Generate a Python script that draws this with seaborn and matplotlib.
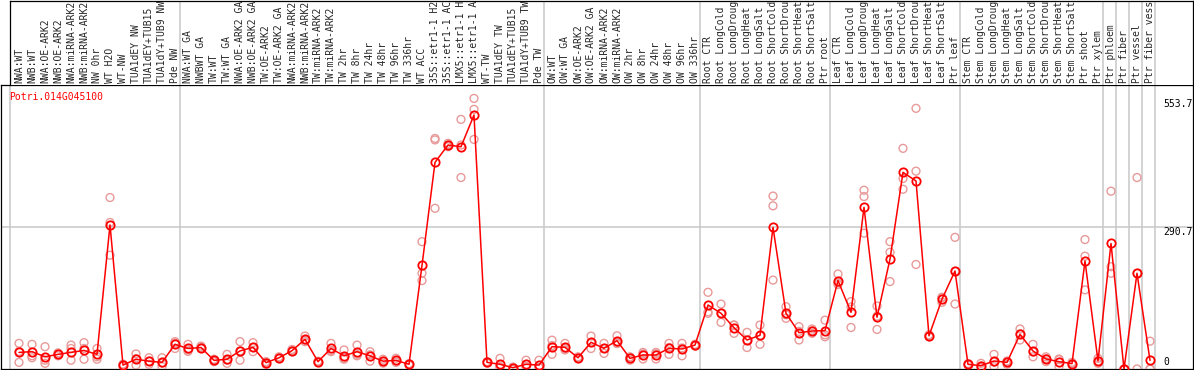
import numpy as np
import pandas as pd
import matplotlib
matplotlib.use('Agg')
import matplotlib.pyplot as plt
import matplotlib.transforms as mtransforms
import seaborn as sns

# =============================================================================
# DATA
# =============================================================================
gene_id = 'Potri.014G045100'

# sample names as far as they are visible in the header
samples = [
    'NWA:WT', 'NWB:WT', 'NWA:OE-ARK2', 'NWB:OE-ARK2', 'NWA:miRNA-ARK2',
    'NWB:miRNA-ARK2', 'NW 0hr', 'WT H2O', 'WT-NW', 'TUA1dEY NW',
    'TUA1dEY+TUB15', 'TUA1dY+TUB9 NW', 'Pde NW', 'NWA:WT GA', 'NWBWT GA',
    'TW:WT', 'TW:WT GA', 'NWA:OE-ARK2 GA', 'NWB:OE-ARK2 GA', 'TW:OE-ARK2',
    'TW:OE-ARK2 GA', 'NWA:miRNA-ARK2', 'NWB:miRNA-ARK2', 'TW:miRNA-ARK2',
    'TW:miRNA-ARK2', 'TW 2hr', 'TW 8hr', 'TW 24hr', 'TW 48hr', 'TW 96hr',
    'TW 336hr', 'WT ACC', '35S::etr1-1 H2', '35S::etr1-1 AC',
    'LMX5::etr1-1 H', 'LMX5::etr1-1 A', 'WT-TW', 'TUA1dEY TW',
    'TUA1dEY+TUB15', 'TUA1dY+TUB9 TW', 'Pde TW', 'OW:WT', 'OW:WT GA',
    'OW:OE-ARK2', 'OW:OE-ARK2 GA', 'OW:miRNA-ARK2', 'OW:miRNA-ARK2', 'OW 2hr',
    'OW 8hr', 'OW 24hr', 'OW 48hr', 'OW 96hr', 'OW 336hr', 'Root CTR',
    'Root LongCold', 'Root LongDroug', 'Root LongHeat', 'Root LongSalt',
    'Root ShortCold', 'Root ShortDrou', 'Root ShortHeat', 'Root ShortSalt',
    'Ptr root', 'Leaf CTR', 'Leaf LongCold', 'Leaf LongDroug', 'Leaf LongHeat',
    'Leaf LongSalt', 'Leaf ShortCold', 'Leaf ShortDrou', 'Leaf ShortHeat',
    'Leaf ShortSalt', 'Ptr leaf', 'Stem CTR', 'Stem LongCold',
    'Stem LongDroug', 'Stem LongHeat', 'Stem LongSalt', 'Stem ShortCold',
    'Stem ShortDrou', 'Stem ShortHeat', 'Stem ShortSalt', 'Ptr shoot',
    'Ptr xylem', 'Ptr phloem', 'Ptr fiber', 'Ptr vessel', 'Ptr fiber vess',
]

mean_expr = [
    34, 35.5, 25, 30, 34, 38, 30, 295, 8, 20,
    16, 13.6, 50.5, 42, 44, 17.7, 20, 37, 44.4, 13,
    23, 37.5, 60.7, 15, 42, 27, 35.5, 27, 16, 17.7,
    9.6, 212, 423, 458.5, 455, 520, 13.6, 9.6, 2.7, 9.6,
    8, 45.7, 44.4, 23, 54.6, 42.3, 58, 21.8, 28.7, 28.7,
    42.3, 41, 49, 131, 114, 84.6, 59.4, 69, 290, 114,
    74.4, 77.8, 78.5, 181, 116, 331, 106, 225, 402.6, 385,
    68, 143, 200.6, 9.6, 6.8, 16.4, 13.6, 71, 36.8, 20.5,
    15, 11, 221, 16.4, 257, 0, 196, 17.7,
]

rep1 = [
    52.5, 50.5, 45.7, 27, 49, 54, 42, 351, 10, 31,
    23, 23, 56, 50.5, 47, 15, 30, 56, 54, 15,
    25, 40, 67.5, 15, 52.5, 39, 49, 35.5, 20, 22,
    9.6, 260.7, 472, 462, 511, 554, 13.6, 21.8, 0, 18,
    18, 59, 52.5, 23, 67.5, 52.5, 68, 18, 34, 34,
    52.5, 52.5, 50.5, 157, 133, 90, 75, 90, 354, 127.6,
    86.7, 82, 100, 194.5, 138, 366, 129, 260.7, 451.7, 533.6,
    68, 146, 269.5, 9.6, 11.6, 30, 16.4, 82, 50.5, 25,
    20.5, 13.6, 265, 21.8, 364, 0, 392, 57,
]

rep2 = [
    13.6, 27, 18, 30, 42, 42, 25, 233, 6, 8,
    9.5, 12, 42, 39, 44, 20, 11.6, 18, 35.5, 9.5,
    21, 35.5, 56, 14, 35.5, 20, 27, 16, 12, 13.6,
    8, 196, 469, 458.5, 458.5, 531.6, 12, 2.7, 4, 5,
    2.7, 30, 39, 21, 42, 32, 52, 22, 20.5, 20.5,
    30, 27, 47, 117, 95.5, 73, 44, 50.5, 334, 103.7,
    59.4, 73, 66, 173, 127, 353, 81, 239, 390, 405,
    66, 136.5, 133, 8, 2.7, 5, 9.6, 59.4, 25, 15,
    5, 9, 231, 11.6, 209.5, 0, 0, 0,
]

rep3 = [
    36, 23, 11.6, 33, 18, 20, 20, 300, 8, 21,
    16, 5, 53, 36, 42, 18, 18, 37, 44, 14,
    23, 37, 59, 16, 38, 22, 30, 29, 16, 17,
    11, 181, 329, 455, 392, 470, 15, 4.3, 3, 6,
    3.3, 48, 42, 25, 54, 42, 54, 25, 31, 31,
    44, 43, 49, 114, 114, 90, 59, 68, 182, 111,
    77, 78, 70, 176, 85, 278, 108, 179, 368, 214,
    70, 147, 200, 11, 6, 14, 15, 72, 35, 21,
    19, 11, 162, 16, 196, 0, 196, 0,
]

# last sample (1-based) of each block that gets a separator line
block_ends = [13, 41, 53, 63, 73, 84, 85, 86, 87, 88]

scale_labels = ['553.7', '290.7', '0']
scale_values = [553.7, 290.7, 0]

# =============================================================================
# TABLES
# =============================================================================
n = len(samples)
df_mean = pd.DataFrame({'pos': np.arange(n), 'sample': samples, 'expr': mean_expr})
df_rep = pd.DataFrame({
    'pos': np.tile(np.arange(n), 3),
    'expr': rep1 + rep2 + rep3,
})

# =============================================================================
# FIGURE
# =============================================================================
sns.set_style('white')
plt.rcParams['font.family'] = ['DejaVu Sans Mono']
FS = 7.0

W, H = 1194, 370
fig = plt.figure(figsize=(W / 100, H / 100), dpi=100)

# pixel layout: sample i sits at x = 19 + 13 * i
ax = fig.add_axes([1 / W, 1 / H, 1192 / W, 284 / H])
ax_head = fig.add_axes([10 / W, 285 / H, 1183 / W, 84.5 / H])

grid_col = '#c8c8c8'
x_left_main, x_left_head, x_right = (1 - 19) / 13, (10 - 19) / 13, (1193 - 19) / 13

# --- grid / separators ---
ax.axhline(scale_values[1], color=grid_col, lw=1.1, zorder=0)
ax.axvline(x_left_head, color=grid_col, lw=1.1, zorder=0)
for k in block_ends:
    ax.axvline(k - 1 + 0.385, color=grid_col, lw=1.1, zorder=0)
    ax_head.axvline(k - 1 + 0.385, color=grid_col, lw=1.1, zorder=0)

# --- replicate points ---
sns.scatterplot(data=df_rep, x='pos', y='expr', ax=ax, marker='o', s=32,
                facecolors='none', edgecolor='#e89a9a', linewidth=1.0,
                zorder=3, legend=False)

# --- mean profile ---
sns.lineplot(data=df_mean, x='pos', y='expr', ax=ax, color='red', lw=1.1,
             marker='o', markersize=6.0, markerfacecolor='none',
             markeredgecolor='red', markeredgewidth=1.3, zorder=4, legend=False)

ax.set_xlim(x_left_main, x_right)
ax.set_ylim(0, 581.4)
ax.set_xticks([])
ax.set_yticks([])
ax.set_xlabel('')
ax.set_ylabel('')
for sp in ax.spines.values():
    sp.set_color('black')
    sp.set_linewidth(0.9)

ax.text(0.007, 0.958, gene_id, transform=ax.transAxes, color='red',
        fontsize=FS, ha='left', va='center')

scale_trans = mtransforms.blended_transform_factory(ax.transAxes, ax.transData)
for lab, val in zip(scale_labels, scale_values):
    va = 'bottom' if val == 0 else 'top'
    t = mtransforms.offset_copy(scale_trans, fig=fig, y=(2 if val == 0 else 0), units='dots')
    ax.text((1163 - 1) / 1192, val, lab, transform=t, fontsize=FS,
            ha='left', va=va, color='black')

# --- header with sample names ---
ax_head.set_xlim(x_left_head, x_right)
ax_head.set_ylim(0, 1)
ax_head.set_xticks([])
ax_head.set_yticks([])
for name, sp in ax_head.spines.items():
    sp.set_color('black')
    sp.set_linewidth(0.9)
ax_head.spines['bottom'].set_visible(False)

head_trans = mtransforms.blended_transform_factory(ax_head.transData, ax_head.transAxes)
for i, lab in enumerate(samples):
    ax_head.text(i, 0.02, lab, rotation=90, ha='center', va='bottom',
                 fontsize=FS, transform=head_trans, clip_on=True)

fig.savefig('out.png', dpi=100)
